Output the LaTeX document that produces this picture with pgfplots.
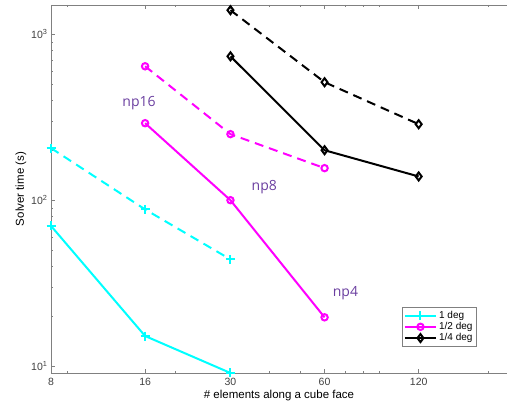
\documentclass[border=0pt]{standalone}
\usepackage{fontspec}
\setmainfont{Liberation Sans}
\newfontfamily\npfont{Open Sans}
\usepackage{pgfplots}
\pgfplotsset{compat=1.18}
\definecolor{axgray}{RGB}{128,128,128}
\definecolor{nppurple}{RGB}{107,63,160}
\definecolor{mcyan}{RGB}{0,255,255}
\definecolor{mmagenta}{RGB}{255,0,255}
\begin{document}
\begin{tikzpicture}
\path[use as bounding box] (-51pt,-38pt) rectangle (456pt,373pt);
\begin{axis}[
    scale only axis,
    width=456pt, height=368pt,
    xmode=log, ymode=log,
    xmin=8, xmax=230,
    ymin=9.1, ymax=1500,
    axis y line*=left,
    axis line style={axgray},
    every tick/.style={axgray},
    tick align=inside,
    major tick length=4pt, minor tick length=2.5pt,
    xtick={8,16,30,60,120},
    xticklabels={8,16,30,60,120},
    minor xtick={9,20,40,50,70,80,90,200},
    ytick={10,100,1000},
    yticklabels={10\textsuperscript{1},10\textsuperscript{2},10\textsuperscript{3}},
    /pgf/number format/assume math mode=true,
    tick label style={font=\fontsize{10.5}{12}\selectfont, text=black!75},
    xticklabel style={yshift=-2pt},
    xlabel={\# elements along a cube face},
    ylabel={Solver time (s)},
    label style={font=\fontsize{11.5}{13}\selectfont},
    xlabel style={yshift=3pt},
    ylabel style={yshift=-2pt},
    legend style={at={(0.77,0.178)}, anchor=north west,
        font=\fontsize{10}{11}\selectfont, draw=axgray,
        inner sep=1.5pt, row sep=-1.5pt},
    legend cell align=left,
    legend image code/.code={
        \draw[mark repeat=2, mark phase=2, #1] plot coordinates {(0cm,0cm) (0.55cm,0cm) (1.1cm,0cm)};
    },
    every axis plot/.append style={line width=2pt},
]
% 1 deg
\addplot[mcyan, mark=+, mark size=4.5pt] coordinates {(8,70) (16,15.2) (30,9.1)};
\addlegendentry{1 deg}
% 1/2 deg
\addplot[mmagenta, mark=o, mark size=3.2pt] coordinates {(16,291) (30,100) (60,19.7)};
\addlegendentry{1/2 deg}
% 1/4 deg
\addplot[black, mark=diamond, mark size=4pt] coordinates {(30,736) (60,200) (120,139)};
\addlegendentry{1/4 deg}
% dashed
\addplot[mcyan, dash pattern=on 9pt off 6pt, mark=+, mark size=4.5pt, mark options={solid}, forget plot]
    coordinates {(8,206) (16,88) (30,44)};
\addplot[mmagenta, dash pattern=on 9pt off 6pt, mark=o, mark size=3.2pt, mark options={solid}, forget plot]
    coordinates {(16,641) (30,250) (60,156)};
\addplot[black, dash pattern=on 9pt off 6pt, mark=diamond, mark size=4pt, mark options={solid}, forget plot]
    coordinates {(30,1396) (60,514) (120,287)};
\node[nppurple, font=\npfont\fontsize{14}{16}\selectfont] at (axis cs:15.3,385) {np16};
\node[nppurple, font=\npfont\fontsize{14}{16}\selectfont] at (axis cs:38.5,120) {np8};
\node[nppurple, font=\npfont\fontsize{14}{16}\selectfont] at (axis cs:70,27.5) {np4};
\end{axis}
\end{tikzpicture}
\end{document}
